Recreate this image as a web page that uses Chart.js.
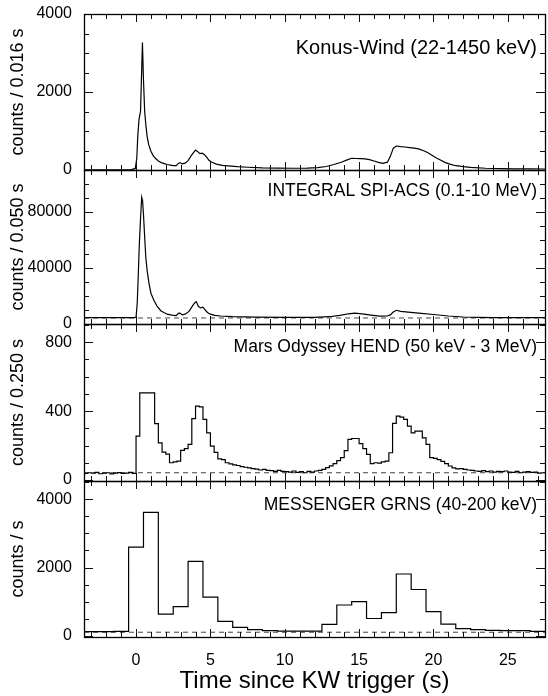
<!DOCTYPE html>
<html>
<head>
<meta charset="utf-8">
<title>Light curves</title>
<script src="https://cdn.jsdelivr.net/npm/chart.js@4.4.1/dist/chart.umd.min.js"></script>
<style>
  html, body { margin: 0; padding: 0; background: #fff; }
  #wrap { position: relative; width: 548px; height: 696px; overflow: hidden; }
  #wrap canvas { position: absolute; left: 0; }
</style>
</head>
<body>
<div id="wrap">
  <canvas id="kw" width="548" height="182" style="top:0px"></canvas>
  <canvas id="acs" width="548" height="178" style="top:158px"></canvas>
  <canvas id="hend" width="548" height="181" style="top:312px"></canvas>
  <canvas id="mes" width="548" height="227" style="top:469px"></canvas>
</div>
<script>
// Konus-Wind, counts / 0.016 s
var kwTime = [-3.5, -1.0, -0.3, -0.05, 0.05, 0.12, 0.2, 0.3, 0.36, 0.43, 0.5, 0.58,
  0.66, 0.75, 0.85, 1.0, 1.15, 1.3, 1.5, 1.7, 1.9, 2.1, 2.3, 2.5, 2.7, 2.85, 2.95, 3.1, 3.3, 3.5, 3.7, 3.85,
  4.0, 4.15, 4.3, 4.45, 4.6, 4.75, 4.9, 5.1, 5.4, 5.8, 6.2, 6.8, 7.5, 8.5, 9.5, 10.5, 11.5, 12.2, 12.8, 13.3,
  13.8, 14.2, 14.5, 14.8, 15.1, 15.4, 15.7, 16.0, 16.3, 16.6, 16.9, 17.1, 17.3, 17.5, 17.8, 18.1, 18.4, 18.7,
  19.0, 19.3, 19.6, 19.9, 20.2, 20.5, 20.8, 21.1, 21.5, 22.0, 22.5, 23.5, 24.5, 25.5, 26.5, 27.5];
var kwCounts = [3, 5, 8, 40, 300, 900, 1300, 1500, 2300, 3270, 2300, 1500,
  1150, 850, 650, 480, 370, 300, 230, 190, 165, 140, 125, 110, 110, 170, 190, 160, 175, 240, 360, 440,
  510, 470, 420, 430, 390, 330, 250, 200, 150, 120, 105, 85, 70, 55, 50, 45, 50, 60, 90, 140,
  200, 260, 300, 295, 290, 285, 265, 230, 195, 170, 200, 350, 560, 615, 600, 590, 575, 560,
  540, 500, 450, 380, 310, 250, 190, 150, 110, 85, 65, 45, 35, 30, 28, 25];

// INTEGRAL SPI-ACS, counts / 0.050 s
var acsTime = [-3.5, -0.1, 0.0, 0.08, 0.15, 0.22, 0.3, 0.38, 0.44, 0.5, 0.58, 0.66, 0.76, 0.87, 1.0,
  1.2, 1.4, 1.66, 1.9, 2.1, 2.4, 2.7, 2.85, 2.95, 3.1, 3.3, 3.56, 3.8, 3.95, 4.05, 4.2, 4.35, 4.5, 4.65,
  4.8, 5.0, 5.3, 5.7, 6.5, 8.0, 10.0, 12.0, 13.0, 13.7, 14.3, 14.7, 15.2, 15.8, 16.4, 16.9, 17.1, 17.3,
  17.5, 17.8, 18.3, 19.0, 20.0, 21.0, 22.0, 23.0, 24.0, 27.5];
var acsCounts = [4600, 4600, 5000, 15000, 35000, 57000, 75000, 90500, 88000, 78000, 62000, 47000, 37000, 29000, 22000,
  17000, 13000, 9500, 8000, 7000, 6300, 6000, 7600, 7800, 6600, 7000, 9000, 12900, 15200, 16000, 12500, 11500, 12000, 10000,
  8200, 7000, 6200, 5700, 5200, 4900, 4700, 4800, 5200, 6200, 7300, 7800, 7200, 6400, 5600, 5700, 6500, 8500,
  9800, 9000, 8500, 7800, 6800, 5700, 5000, 4700, 4600, 4600];
var acsBackground = 4300;

// Mars Odyssey HEND, counts / 0.250 s, bins from -3.5 s
var hendStart = -3.5, hendWidth = 0.25;
var hendCounts = [
  38, 42, 40, 44, 36, 40, 42, 35, 40, 43, 38, 40, 44, 38,
  255, 506, 506, 506,   506, 327, 216, 162,   150, 100, 105, 110,   172, 182, 207, 356,
  429, 425, 352, 274,   197, 160, 122, 118,   100, 93, 88, 84,     78, 74, 70, 66,
  63, 58, 62, 56,       54, 50, 56, 50,       48, 46, 52, 44,     48, 42, 50, 46,
  52, 56, 62, 72,       82, 95, 112, 130,     170, 236, 241, 241, 211, 182, 149, 95,
  100, 98, 105, 110,    158, 329, 371, 365,   352, 313, 274, 284, 284, 245, 207, 130,
  125, 118, 108, 95,    81, 70, 64, 66,       62, 58, 56, 52,     50, 54, 48, 52,
  46, 50, 48, 52,       46, 44, 50, 42,       46, 48, 44, 46,     40, 42];
var hendBackground = 42;

// MESSENGER GRNS, counts / s, 1 s bins
var mesStart = [-3.5, -2.5, -1.5, -0.5, 0.5, 1.5, 2.5, 3.5, 4.5, 5.5, 6.5, 7.5, 8.5, 9.5, 10.5, 11.5,
  12.5, 13.5, 14.5, 15.5, 16.5, 17.5, 18.5, 19.5, 20.5, 21.5, 22.5, 23.5, 24.5, 25.5, 26.5];
var mesRate = [120, 115, 125, 2600, 3620, 630, 852, 2178, 1133, 416, 242, 174, 145, 135, 135, 135,
  329, 900, 997, 503, 678, 1810, 1355, 707, 339, 203, 174, 155, 145, 145, 126];
var mesEnd = 27.5;
var mesBackground = 100;

var xMin = -3.5, xMax = 27.5;
var xLabels = [0, 5, 10, 15, 20, 25];

Chart.defaults.font.family = "'Liberation Sans', Arial, sans-serif";
Chart.defaults.color = '#000';

function pairs(xs, ys) {
  return xs.map(function (x, i) { return { x: x, y: ys[i] }; });
}

function steps(starts, vals, end) {
  var pts = pairs(starts, vals);
  pts.push({ x: end, y: vals[vals.length - 1] });
  return pts;
}

function flatLine(level) {
  return {
    data: [{ x: xMin, y: level }, { x: xMax, y: level }],
    borderColor: '#444', borderWidth: 1, borderDash: [5, 4]
  };
}

// inward ticks on all four sides plus the box
var frameTicks = {
  id: 'frameTicks',
  afterDatasetsDraw: function (chart, args, opts) {
    var ctx = chart.ctx, a = chart.chartArea;
    var x = chart.scales.x, y = chart.scales.y;
    ctx.save();
    ctx.strokeStyle = '#111';
    ctx.lineWidth = 1;
    ctx.beginPath();
    for (var v = Math.ceil(xMin); v <= xMax; v++) {
      var px = Math.round(x.getPixelForValue(v)) + 0.5;
      var len = v % 5 === 0 ? 8 : 5;
      ctx.moveTo(px, a.bottom); ctx.lineTo(px, a.bottom - len);
      ctx.moveTo(px, a.top); ctx.lineTo(px, a.top + len);
    }
    for (var w = 0; w <= y.max; w += opts.minor) {
      var py = Math.round(y.getPixelForValue(w)) + 0.5;
      var l2 = w % opts.major === 0 ? 9 : 5;
      ctx.moveTo(a.left, py); ctx.lineTo(a.left + l2, py);
      ctx.moveTo(a.right, py); ctx.lineTo(a.right - l2, py);
    }
    ctx.stroke();
    ctx.lineWidth = 1.3;
    ctx.strokeStyle = '#000';
    ctx.strokeRect(Math.round(a.left) + 0.5, Math.round(a.top) + 0.5, Math.round(a.width), Math.round(a.height));
    ctx.restore();
  }
};

var panelText = {
  id: 'panelText',
  afterDraw: function (chart, args, opts) {
    var ctx = chart.ctx, a = chart.chartArea;
    ctx.save();
    ctx.font = opts.size + "px 'Liberation Sans', Arial, sans-serif";
    ctx.fillStyle = '#000';
    ctx.textAlign = 'right';
    ctx.textBaseline = 'middle';
    ctx.fillText(opts.text, a.right - 8, a.top + opts.dy);
    ctx.restore();
  }
};

function panel(id, o) {
  return new Chart(document.getElementById(id), {
    type: 'line',
    data: { datasets: o.datasets },
    options: {
      responsive: false,
      animation: false,
      devicePixelRatio: 1,
      layout: { padding: { top: o.padTop, bottom: o.padBottom, left: 0, right: 3 } },
      elements: {
        point: { radius: 0 },
        line: { borderColor: '#000', borderWidth: 1.2, tension: 0 }
      },
      plugins: {
        legend: { display: false },
        tooltip: { enabled: false },
        frameTicks: { major: o.yMajor, minor: o.yMinor },
        panelText: { text: o.label, size: o.labelSize, dy: o.labelDy }
      },
      scales: {
        x: {
          type: 'linear', min: xMin, max: xMax, display: o.showX,
          grid: { display: false, drawTicks: false },
          border: { display: false },
          afterBuildTicks: function (s) { s.ticks = xLabels.map(function (v) { return { value: v }; }); },
          afterFit: function (s) {
            if (o.showX) s.height = 59;
            s.paddingLeft = 0; s.paddingRight = 0;
          },
          ticks: { font: { size: 16 }, padding: 14, maxRotation: 0, autoSkip: false },
          title: {
            display: o.showX, text: 'Time since KW trigger (s)',
            font: { size: 24 }, padding: { top: 0, bottom: 0 }
          }
        },
        y: {
          type: 'linear', min: o.yMin, max: o.yMax,
          grid: { display: false, drawTicks: false },
          border: { display: false },
          afterBuildTicks: function (s) { s.ticks = o.yLabels.map(function (v) { return { value: v }; }); },
          afterFit: function (s) {
            s.width = 84;
            s.paddingTop = 0; s.paddingBottom = 0;
          },
          ticks: { font: { size: 16 }, padding: 12, autoSkip: false, callback: function (v) { return String(v); } },
          title: { display: true, text: o.yTitle, font: { size: 18 }, padding: { top: 7, bottom: 0 } }
        }
      }
    },
    plugins: [frameTicks, panelText]
  });
}

panel('kw', {
  padTop: 14, padBottom: 12, showX: false,
  yMin: 0, yMax: 4000, yLabels: [0, 2000, 4000], yMajor: 2000, yMinor: 500,
  yTitle: 'counts / 0.016 s',
  label: 'Konus-Wind (22-1450 keV)', labelSize: 20, labelDy: 34,
  datasets: [{ data: pairs(kwTime, kwCounts) }]
});

panel('acs', {
  padTop: 12, padBottom: 12, showX: false,
  yMin: 0, yMax: 110000, yLabels: [0, 40000, 80000], yMajor: 40000, yMinor: 10000,
  yTitle: 'counts / 0.050 s',
  label: 'INTEGRAL SPI-ACS (0.1-10 MeV)', labelSize: 17.5, labelDy: 21,
  datasets: [{ data: pairs(acsTime, acsCounts) }, flatLine(acsBackground)]
});

var hendEdges = hendCounts.map(function (c, i) { return hendStart + i * hendWidth; });
panel('hend', {
  padTop: 12, padBottom: 12, showX: false,
  yMin: -6, yMax: 906, yLabels: [0, 400, 800], yMajor: 400, yMinor: 100,
  yTitle: 'counts / 0.250 s',
  label: 'Mars Odyssey HEND (50 keV - 3 MeV)', labelSize: 17.5, labelDy: 23,
  datasets: [{ data: steps(hendEdges, hendCounts, xMax), stepped: true }, flatLine(hendBackground)]
});

panel('mes', {
  padTop: 12, padBottom: 0, showX: true,
  yMin: -40, yMax: 4540, yLabels: [0, 2000, 4000], yMajor: 2000, yMinor: 500,
  yTitle: 'counts / s',
  label: 'MESSENGER GRNS (40-200 keV)', labelSize: 17.5, labelDy: 24,
  datasets: [{ data: steps(mesStart, mesRate, mesEnd), stepped: true }, flatLine(mesBackground)]
});
</script>
</body>
</html>
